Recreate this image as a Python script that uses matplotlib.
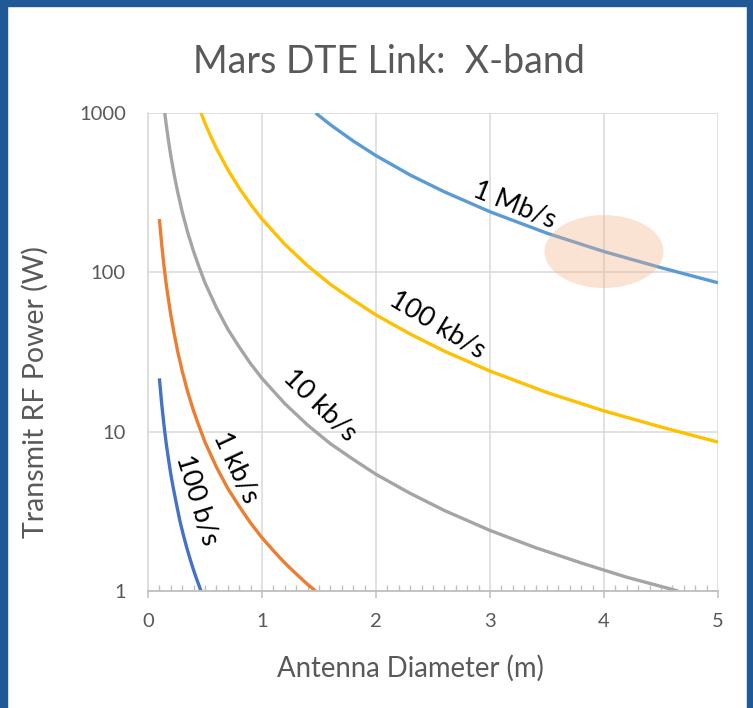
import matplotlib
matplotlib.use("Agg")
import matplotlib.pyplot as plt
from matplotlib.patches import Ellipse, Rectangle
from matplotlib.ticker import FixedLocator, MultipleLocator, NullLocator

plt.rcParams['font.family'] = ['Lato', 'DejaVu Sans']

title = "Mars DTE Link:  X-band"
x_label = "Antenna Diameter (m)"
y_label = "Transmit RF Power (W)"

# Series: antenna diameter (m) -> transmit power (W)
d_100bps = [0.10, 0.12, 0.14, 0.16, 0.18, 0.20, 0.22, 0.25, 0.28, 0.31, 0.34, 0.37, 0.40, 0.43, 0.465]
p_100bps = [21.6, 15.0, 11.0, 8.4, 6.7, 5.4, 4.5, 3.5, 2.75, 2.25, 1.87, 1.58, 1.35, 1.17, 1.0]

d_1kbps = [0.10, 0.12, 0.14, 0.16, 0.18, 0.20, 0.23, 0.26, 0.30, 0.35, 0.40, 0.45, 0.50, 0.60, 0.70,
           0.80, 0.90, 1.00, 1.10, 1.20, 1.30, 1.40, 1.47]
p_1kbps = [216, 150, 110, 84, 67, 54, 41, 32, 24, 17.6, 13.5, 10.7, 8.6, 6.0, 4.4,
           3.4, 2.67, 2.16, 1.79, 1.50, 1.28, 1.10, 1.0]

d_10kbps = [0.147, 0.16, 0.18, 0.20, 0.23, 0.26, 0.30, 0.35, 0.40, 0.45, 0.50, 0.60, 0.70, 0.80, 0.90,
            1.0, 1.2, 1.4, 1.6, 1.8, 2.0, 2.3, 2.6, 3.0, 3.4, 3.8, 4.2, 4.65]
p_10kbps = [1000, 844, 667, 540, 408, 320, 240, 176, 135, 107, 86, 60, 44, 34, 26.7,
            21.6, 15.0, 11.0, 8.4, 6.7, 5.4, 4.1, 3.2, 2.4, 1.87, 1.50, 1.22, 1.0]

d_100kbps = [0.465, 0.5, 0.55, 0.6, 0.7, 0.8, 0.9, 1.0, 1.2, 1.4, 1.6, 1.8, 2.0, 2.3, 2.6, 3.0,
             3.5, 4.0, 4.5, 5.0]
p_100kbps = [1000, 864, 714, 600, 441, 338, 267, 216, 150, 110, 84, 67, 54, 41, 32, 24,
             17.6, 13.5, 10.7, 8.6]

d_1mbps = [1.47, 1.6, 1.8, 2.0, 2.3, 2.6, 3.0, 3.5, 4.0, 4.5, 5.0]
p_1mbps = [1000, 844, 667, 540, 408, 320, 240, 176, 135, 107, 86]

series_labels = ["100 b/s", "1 kb/s", "10 kb/s", "100 kb/s", "1 Mb/s"]
series_colors = ["#4472C4", "#ED7D31", "#A5A5A5", "#FFC000", "#5B9BD5"]

# label anchor (diameter, power) and rotation
label_d = [0.43, 0.77, 1.51, 2.535, 3.22]
label_p = [3.72, 6.0, 14.7, 46.7, 264.0]
label_rot = [-73, -65, -44, -31, -22]

x_ticks = [0, 1, 2, 3, 4, 5]
y_ticks = [1, 10, 100, 1000]
y_tick_labels = ["1", "10", "100", "1000"]

highlight_d = 4.0
highlight_p = 135.0

W, H = 753, 708
fig = plt.figure(figsize=(W / 100, H / 100), dpi=100)
fig.patch.set_facecolor("white")

ax = fig.add_axes([148 / W, (H - 591) / H, 570 / W, 478 / H])
ax.set_xlim(0, 5)
ax.set_yscale("log")
ax.set_ylim(1, 1000)

grid_c = "#D9D9D9"
ax.xaxis.set_major_locator(FixedLocator(x_ticks))
ax.xaxis.set_minor_locator(MultipleLocator(0.1))
ax.yaxis.set_major_locator(FixedLocator(y_ticks))
ax.yaxis.set_minor_locator(NullLocator())
ax.set_yticklabels(y_tick_labels)
ax.grid(True, which="major", color=grid_c, linewidth=1.1)
ax.set_axisbelow(True)

for s in ["top", "right"]:
    ax.spines[s].set_visible(False)
ax.spines["left"].set_color(grid_c)
ax.spines["left"].set_linewidth(1.1)
ax.spines["bottom"].set_color("#BFBFBF")
ax.spines["bottom"].set_linewidth(1.3)

ax.tick_params(axis="x", which="major", direction="out", length=5, width=1.1, color="#BFBFBF",
               labelsize=14.5, labelcolor="#595959", pad=11)
ax.tick_params(axis="x", which="minor", direction="in", length=4, width=1.0, color="#BFBFBF")
ax.tick_params(axis="y", which="major", length=0, labelsize=14.5, labelcolor="#595959", pad=16)

all_d = [d_100bps, d_1kbps, d_10kbps, d_100kbps, d_1mbps]
all_p = [p_100bps, p_1kbps, p_10kbps, p_100kbps, p_1mbps]
for d, p, c in zip(all_d, all_p, series_colors):
    ax.plot(d, p, color=c, linewidth=2.4, solid_capstyle="butt", clip_on=True)

for lab, ld, lp, rot in zip(series_labels, label_d, label_p, label_rot):
    ax.text(ld, lp, lab, rotation=rot, rotation_mode="anchor", ha="center", va="center",
            fontsize=19.5, color="black")

# highlight ellipse, sized in axes fraction
disp = ax.transData.transform((highlight_d, highlight_p))
cx, cy = ax.transAxes.inverted().transform(disp)
ell = Ellipse((cx, cy), 119 / 570, 73 / 478, transform=ax.transAxes,
              facecolor="#F4B183", alpha=0.35, edgecolor="none", zorder=5)
ax.add_patch(ell)

fig.text(389 / W, 1 - 62 / H, title, ha="center", va="center", fontsize=27, color="#595959")
fig.text(410 / W, 1 - 668 / H, x_label, ha="center", va="center", fontsize=19.8, color="#595959")
fig.text(35 / W, 1 - 392 / H, y_label, ha="center", va="center", rotation=90, fontsize=20.5,
         color="#595959")

# dark blue frame
frame_c = "#1F5A96"
fig.patches.append(Rectangle((0, 0), 7 / W, 1, transform=fig.transFigure, color=frame_c, zorder=10))
fig.patches.append(Rectangle((0, 1 - 6 / H), 1, 6 / H, transform=fig.transFigure, color=frame_c, zorder=10))
fig.patches.append(Rectangle((1 - 6 / W, 0), 6 / W, 1, transform=fig.transFigure, color=frame_c, zorder=10))

fig.savefig("out.png", dpi=100)
